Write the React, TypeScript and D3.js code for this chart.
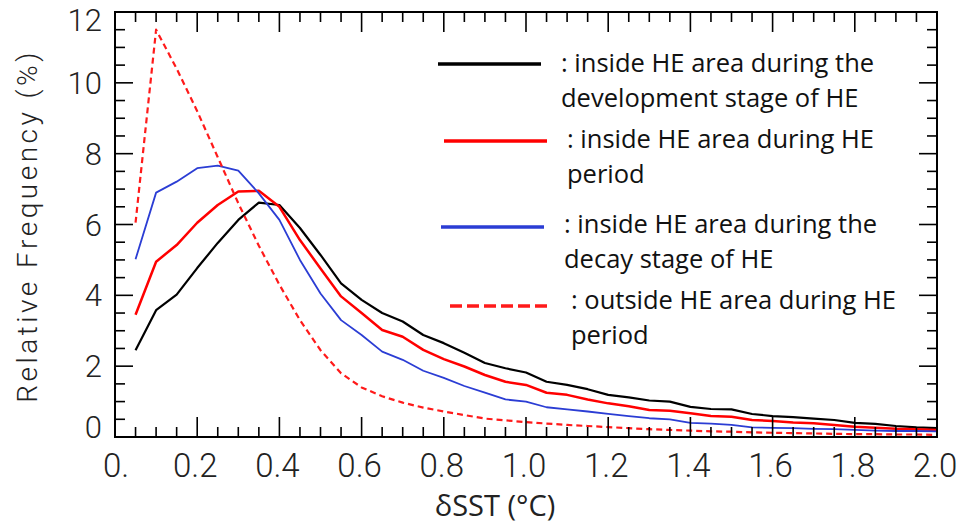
import React from "react";
import * as d3 from "d3";

// δSST bin centres (°C)
const sst = [
  0.05, 0.1, 0.15, 0.2, 0.25, 0.3, 0.35, 0.4, 0.45, 0.5,
  0.55, 0.6, 0.65, 0.7, 0.75, 0.8, 0.85, 0.9, 0.95, 1.0,
  1.05, 1.1, 1.15, 1.2, 1.25, 1.3, 1.35, 1.4, 1.45, 1.5,
  1.55, 1.6, 1.65, 1.7, 1.75, 1.8, 1.85, 1.9, 1.95, 2.0,
];

// relative frequency (%)
const devStage = [
  2.45, 3.58, 4.02, 4.77, 5.48, 6.13, 6.62, 6.55, 5.9, 5.14,
  4.34, 3.87, 3.5, 3.26, 2.88, 2.65, 2.38, 2.09, 1.94, 1.82,
  1.56, 1.47, 1.35, 1.19, 1.12, 1.03, 1.0, 0.85, 0.79, 0.78,
  0.65, 0.59, 0.56, 0.52, 0.48, 0.4, 0.37, 0.31, 0.27, 0.25,
];
const hePeriod = [
  3.45, 4.95, 5.42, 6.05, 6.55, 6.93, 6.95, 6.5, 5.56, 4.76,
  3.97, 3.5, 3.02, 2.83, 2.46, 2.2, 1.99, 1.75, 1.56, 1.47,
  1.25, 1.19, 1.06, 0.95, 0.87, 0.76, 0.74, 0.67, 0.59, 0.57,
  0.48, 0.45, 0.41, 0.39, 0.34, 0.29, 0.26, 0.23, 0.22, 0.2,
];
const decayStage = [
  5.02, 6.9, 7.21, 7.59, 7.66, 7.52, 6.88, 6.13, 5.0, 4.05,
  3.3, 2.88, 2.41, 2.18, 1.87, 1.67, 1.44, 1.25, 1.06, 1.0,
  0.84, 0.78, 0.72, 0.65, 0.59, 0.53, 0.5, 0.4, 0.38, 0.34,
  0.27, 0.26, 0.25, 0.23, 0.22, 0.2, 0.18, 0.17, 0.17, 0.16,
];
const outsideHE = [
  6.05, 11.5, 10.4, 9.2, 7.9, 6.6, 5.4, 4.3, 3.3, 2.45,
  1.8, 1.4, 1.15, 0.97, 0.83, 0.72, 0.62, 0.52, 0.47, 0.42,
  0.38, 0.34, 0.31, 0.28, 0.25, 0.22, 0.2, 0.18, 0.16, 0.15,
  0.13, 0.12, 0.11, 0.1, 0.09, 0.08, 0.08, 0.07, 0.07, 0.06,
];

const xTickValues = [0, 0.2, 0.4, 0.6, 0.8, 1.0, 1.2, 1.4, 1.6, 1.8, 2.0];
const xTickLabels = ["0.", "0.2", "0.4", "0.6", "0.8", "1.0", "1.2", "1.4", "1.6", "1.8", "2.0"];
const yTickValues = [0, 2, 4, 6, 8, 10, 12];
const yTickLabels = ["0", "2", "4", "6", "8", "10", "12"];

const legendText = [
  [": inside HE area during the", "development stage of HE"],
  [": inside HE area during HE", "period"],
  [": inside HE area during the", "decay stage of HE"],
  [": outside HE area during HE", "period"],
];

const series = [
  { values: devStage, color: "#000000", width: 2.2, dash: null },
  { values: hePeriod, color: "#ff0000", width: 2.5, dash: null },
  { values: decayStage, color: "#2b3dd4", width: 1.8, dash: null },
  { values: outsideHE, color: "#ff1a1a", width: 2.2, dash: "6,4" },
];

// legend placement (line start, line end, line y, text x, first baseline)
const legendLayout = [
  { x1: 438, x2: 541, ly: 64, tx: 561, ty: 72 },
  { x1: 444, x2: 547, ly: 141, tx: 567, ty: 148 },
  { x1: 441, x2: 544, ly: 227, tx: 564, ty: 233 },
  { x1: 450, x2: 552, ly: 306, tx: 571, ty: 309 },
];

export default function App() {
  const width = 961;
  const height = 527;
  const left = 115, right = 937, top = 12, bottom = 437;

  const x = d3.scaleLinear().domain([0, 2]).range([left, right]);
  const y = d3.scaleLinear().domain([0, 12]).range([bottom, top]);

  const line = d3
    .line<number>()
    .x((d, i) => x(sst[i]))
    .y((d) => y(d));

  const xMinor = d3.range(0, 2.0001, 0.05);
  const yMinor = d3.range(0, 12.0001, 0.5);
  const isMajorX = (v: number) => Math.abs(v / 0.2 - Math.round(v / 0.2)) < 1e-6;
  const isMajorY = (v: number) => Math.abs(v / 2 - Math.round(v / 2)) < 1e-6;

  const tickFont = "Roboto, 'Liberation Sans', sans-serif";

  return (
    <svg
      width={width}
      height={height}
      style={{ position: "absolute", left: 0, top: 0, background: "#fff" }}
    >
      {series.map((s, i) => (
        <path
          key={i}
          d={line(s.values) || ""}
          fill="none"
          stroke={s.color}
          strokeWidth={s.width}
          strokeDasharray={s.dash || undefined}
          strokeLinejoin="round"
        />
      ))}

      {/* frame */}
      <rect
        x={left}
        y={top}
        width={right - left}
        height={bottom - top}
        fill="none"
        stroke="#000"
        strokeWidth={2}
      />

      {/* x ticks, bottom and top */}
      {xMinor.map((v, i) => {
        const len = isMajorX(v) ? 20 : 10;
        return (
          <g key={"xt" + i} stroke="#000" strokeWidth={1.6}>
            <line x1={x(v)} x2={x(v)} y1={bottom} y2={bottom - len} />
            <line x1={x(v)} x2={x(v)} y1={top} y2={top + len} />
          </g>
        );
      })}

      {/* y ticks, left and right */}
      {yMinor.map((v, i) => {
        const len = isMajorY(v) ? 18 : 10;
        return (
          <g key={"yt" + i} stroke="#000" strokeWidth={1.6}>
            <line x1={left} x2={left + len} y1={y(v)} y2={y(v)} />
            <line x1={right} x2={right - len} y1={y(v)} y2={y(v)} />
          </g>
        );
      })}

      {/* x tick labels */}
      {xTickValues.map((v, i) => (
        <text
          key={"xl" + i}
          x={i === 0 ? x(v) - 12 : x(v) - 2}
          y={477}
          textAnchor={i === 0 ? "start" : "middle"}
          fontFamily={tickFont}
          fontWeight={300}
          fontSize={33}
          fill="#222"
        >
          {xTickLabels[i]}
        </text>
      ))}

      {/* y tick labels */}
      {yTickValues.map((v, i) => {
        const cy = Math.min(Math.max(y(v), 20), 427);
        return (
          <text
            key={"yl" + i}
            x={left - 13}
            y={cy + 11}
            textAnchor="end"
            fontFamily={tickFont}
            fontWeight={300}
            fontSize={31}
            fill="#222"
          >
            {yTickLabels[i]}
          </text>
        );
      })}

      {/* axis titles */}
      <text
        transform={`translate(37, 226) rotate(-90)`}
        textAnchor="middle"
        fontFamily={tickFont}
        fontWeight={300}
        fontSize={28}
        letterSpacing={3.5}
        fill="#222"
      >
        Relative Frequency (%)
      </text>
      <text
        x={495}
        y={516}
        textAnchor="middle"
        fontFamily="'Open Sans', sans-serif"
        fontSize={29}
        fill="#222"
      >
        δSST (°C)
      </text>

      {/* legend */}
      {legendLayout.map((l, i) => (
        <g key={"lg" + i}>
          <line
            x1={l.x1}
            x2={l.x2}
            y1={l.ly}
            y2={l.ly}
            stroke={series[i].color}
            strokeWidth={3.5}
            strokeDasharray={series[i].dash ? "12,5" : undefined}
          />
          {legendText[i].map((t, j) => (
            <text
              key={j}
              x={l.tx}
              y={l.ty + j * 35}
              fontFamily="'Open Sans', sans-serif"
              fontSize={25.5}
              fill="#111"
            >
              {t}
            </text>
          ))}
        </g>
      ))}
    </svg>
  );
}
